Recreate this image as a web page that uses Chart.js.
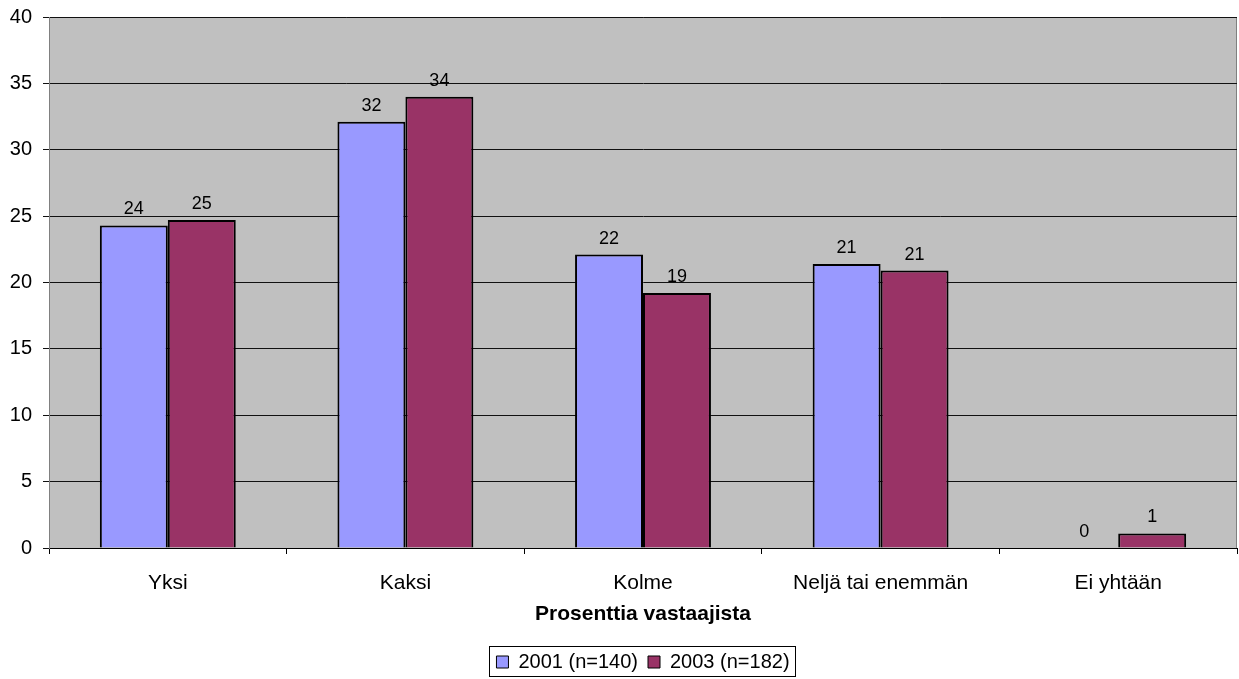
<!DOCTYPE html>
<html>
<head>
<meta charset="utf-8">
<script src="https://cdn.jsdelivr.net/npm/chart.js@4/dist/chart.umd.min.js"></script>
<style>
  html, body { margin: 0; padding: 0; background: #fff; }
  #wrap { width: 1239px; height: 679px; }
</style>
</head>
<body>
<div id="wrap"><canvas id="myChart"></canvas></div>
<script>
  const categories = ['Yksi', 'Kaksi', 'Kolme', 'Neljä tai enemmän', 'Ei yhtään'];
  const values2001 = [24.3, 32.1, 22.1, 21.4, 0];
  const values2003 = [24.7, 34.0, 19.2, 20.9, 1.1];
  const yTicks = [0, 5, 10, 15, 20, 25, 30, 35, 40];

  const fontFamily = '"Liberation Sans", Arial, sans-serif';

  // grey plot background + frame
  const plotBackground = {
    id: 'plotBackground',
    beforeDraw(chart) {
      const a = chart.chartArea;
      const ctx = chart.ctx;
      ctx.save();
      ctx.fillStyle = '#C0C0C0';
      ctx.fillRect(a.left, a.top, a.right - a.left, a.bottom - a.top);
      ctx.strokeStyle = '#808080';
      ctx.lineWidth = 1;
      ctx.strokeRect(a.left + 0.5, a.top + 0.5, a.right - a.left - 1, a.bottom - a.top);
      ctx.restore();
    }
  };

  // value labels above bars
  const valueLabels = {
    id: 'valueLabels',
    afterDatasetsDraw(chart) {
      const ctx = chart.ctx;
      ctx.save();
      ctx.font = '18px ' + fontFamily;
      ctx.fillStyle = '#000';
      ctx.textAlign = 'center';
      ctx.textBaseline = 'alphabetic';
      chart.data.datasets.forEach((ds, i) => {
        chart.getDatasetMeta(i).data.forEach((bar, j) => {
          ctx.fillText(Math.round(ds.data[j]), bar.x, bar.y - 11);
        });
      });
      ctx.restore();
    }
  };

  // frame around legend
  const legendFrame = {
    id: 'legendFrame',
    afterDraw(chart) {
      const boxes = chart.legend && chart.legend.legendHitBoxes;
      if (!boxes || !boxes.length) return;
      let l = Infinity, r = -Infinity, t = Infinity, b = -Infinity;
      boxes.forEach(h => {
        l = Math.min(l, h.left); r = Math.max(r, h.left + h.width);
        t = Math.min(t, h.top); b = Math.max(b, h.top + h.height);
      });
      const ctx = chart.ctx;
      ctx.save();
      ctx.strokeStyle = '#000';
      ctx.lineWidth = 1;
      ctx.strokeRect(Math.round(l - 7) + 0.5, Math.round(t - 6) + 0.5, Math.round(r - l + 13), Math.round(b - t + 10));
      ctx.restore();
    }
  };

  let ctx = document.getElementById('myChart').getContext('2d');

  let barChart = new Chart(ctx, {
    type: 'bar',
    data: {
      labels: categories,
      datasets: [{
        label: '2001 (n=140)',
        data: values2001,
        backgroundColor: '#9999FF',
        borderColor: '#000',
        borderWidth: 2,
        categoryPercentage: 0.572,
        barPercentage: 1.0
      }, {
        label: '2003 (n=182)',
        data: values2003,
        backgroundColor: '#993366',
        borderColor: '#000',
        borderWidth: 2,
        categoryPercentage: 0.572,
        barPercentage: 1.0
      }]
    },
    plugins: [plotBackground, valueLabels, legendFrame],
    options: {
      responsive: true,
      maintainAspectRatio: false,
      animation: false,
      layout: { padding: { top: 17, right: 2, left: 0, bottom: -3 } },
      plugins: {
        tooltip: { enabled: false },
        legend: {
          position: 'bottom',
          fullSize: false,
          labels: {
            boxWidth: 12,
            boxHeight: 12,
            padding: 10,
            color: '#000',
            font: { family: fontFamily, size: 20 },
            generateLabels(chart) {
              return chart.data.datasets.map((ds, i) => ({
                text: ds.label,
                fillStyle: ds.backgroundColor,
                strokeStyle: '#000',
                lineWidth: 1,
                datasetIndex: i,
                fontColor: '#000'
              }));
            }
          }
        }
      },
      scales: {
        x: {
          grid: {
            offset: true,
            drawOnChartArea: false,
            drawTicks: true,
            tickLength: 6,
            color: '#000'
          },
          border: { color: '#000', width: 1 },
          ticks: {
            color: '#000',
            padding: 17,
            font: { family: fontFamily, size: 21 }
          },
          title: {
            display: true,
            text: 'Prosenttia vastaajista',
            color: '#000',
            padding: { top: 6, bottom: 15 },
            font: { family: fontFamily, size: 21, weight: 'bold' }
          },
          afterFit(scale) { scale.height = 94; }
        },
        y: {
          min: 0,
          max: 40,
          afterBuildTicks(scale) { scale.ticks = yTicks.map(v => ({ value: v })); },
          grid: {
            color: '#111',
            lineWidth: 1,
            tickLength: 6,
            drawTicks: true
          },
          border: { color: '#808080', width: 1 },
          ticks: {
            color: '#000',
            padding: 11,
            font: { family: fontFamily, size: 20 }
          },
          afterFit(scale) {
            scale.width = 49;
            scale.paddingTop = 0;
            scale.paddingBottom = 0;
          }
        }
      }
    }
  });
</script>
</body>
</html>
